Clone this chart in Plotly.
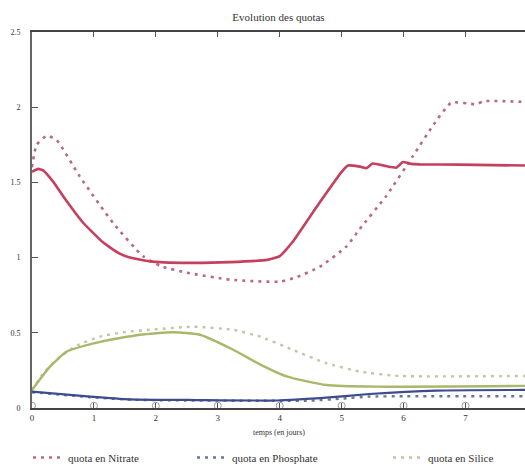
import plotly.graph_objects as go

# ---- data ----
nit_sol_x = [0, 0.1, 0.18, 0.35, 0.5, 0.83, 1.15, 1.4, 1.58, 1.9, 2.5, 3.2, 3.8, 4.0, 4.2, 4.6, 5.0, 5.1, 5.3, 5.4, 5.5, 5.7, 5.88, 5.99, 6.1, 6.26, 6.9, 7.96]
nit_sol_y = [1.57, 1.59, 1.58, 1.5, 1.41, 1.23, 1.1, 1.03, 1.0, 0.975, 0.965, 0.97, 0.985, 1.01, 1.1, 1.34, 1.57, 1.612, 1.605, 1.595, 1.625, 1.61, 1.598, 1.636, 1.625, 1.62, 1.618, 1.612]

nit_dot_x = [0, 0.075, 0.24, 0.4, 0.77, 1.31, 1.79, 2.1, 2.5, 3.2, 4.0, 4.27, 4.65, 5.08, 5.29, 5.72, 6.15, 6.47, 6.77, 7.17, 7.3, 7.96]
nit_dot_y = [1.6, 1.75, 1.81, 1.78, 1.54, 1.23, 1.01, 0.94, 0.9, 0.853, 0.84, 0.87, 0.94, 1.075, 1.19, 1.41, 1.675, 1.875, 2.03, 2.02, 2.04, 2.035]

sil_dot_x = [0, 0.2, 0.45, 0.75, 1.1, 1.5, 1.9, 2.6, 3.25, 3.68, 4.21, 4.75, 5.29, 5.94, 7.96]
sil_dot_y = [0.12, 0.24, 0.34, 0.42, 0.475, 0.505, 0.52, 0.54, 0.52, 0.475, 0.387, 0.298, 0.242, 0.213, 0.213]

sil_sol_x = [0, 0.29, 0.56, 1.1, 1.74, 2.28, 2.71, 3.25, 3.68, 4.11, 4.75, 5.56, 7.96]
sil_sol_y = [0.12, 0.275, 0.375, 0.44, 0.487, 0.504, 0.487, 0.387, 0.29, 0.21, 0.153, 0.142, 0.147]

pho_sol_x = [0, 0.94, 1.58, 2.66, 3.95, 4.65, 5.45, 6.53, 7.96]
pho_sol_y = [0.109, 0.076, 0.058, 0.053, 0.05, 0.065, 0.093, 0.116, 0.12]

pho_dot_x = [0, 1.0, 1.6, 2.5, 4.5, 5.0, 5.45, 6.0, 7.96]
pho_dot_y = [0.105, 0.07, 0.055, 0.05, 0.049, 0.062, 0.076, 0.078, 0.078]

mark_x = [0, 1, 2, 3, 4, 5, 6, 7]
mark_y = [0.015] * 8

x_ticks = [0, 1, 2, 3, 4, 5, 6, 7]
y_ticks = [0, 0.5, 1, 1.5, 2, 2.5]
y_tick_text = ["0", "0.5", "1", "1.5", "2", "2.5"]

SERIF = "Liberation Serif, DejaVu Serif, serif"
DOT = "3px,5px"

fig = go.Figure()
fig.add_trace(go.Scatter(x=nit_dot_x, y=nit_dot_y, mode="lines", name="quota en Nitrate", legend="legend",
                         line=dict(color="#b86a80", width=2.6, dash=DOT, shape="spline", smoothing=0.5)))
fig.add_trace(go.Scatter(x=pho_dot_x, y=pho_dot_y, mode="lines", name="quota en Phosphate", legend="legend2",
                         line=dict(color="#6a7898", width=2.4, dash=DOT, shape="spline", smoothing=0.5)))
fig.add_trace(go.Scatter(x=sil_dot_x, y=sil_dot_y, mode="lines", name="quota en Silice", legend="legend3",
                         line=dict(color="#c4c4a8", width=2.4, dash=DOT, shape="spline", smoothing=0.5)))
fig.add_trace(go.Scatter(x=nit_sol_x, y=nit_sol_y, mode="lines", showlegend=False,
                         line=dict(color="#c4405e", width=2.6, shape="spline", smoothing=0.4)))
fig.add_trace(go.Scatter(x=sil_sol_x, y=sil_sol_y, mode="lines", showlegend=False,
                         line=dict(color="#a9b86a", width=2.4, shape="spline", smoothing=0.5)))
fig.add_trace(go.Scatter(x=pho_sol_x, y=pho_sol_y, mode="lines", showlegend=False,
                         line=dict(color="#3c4c8c", width=2.2, shape="spline", smoothing=0.5)))
fig.add_trace(go.Scatter(x=mark_x, y=mark_y, mode="markers", showlegend=False,
                         marker=dict(symbol="circle-open", size=7, color="#9a9aa8", line=dict(width=1))))

PW = 493.0
def leg(px):
    return dict(orientation="h", x=(px - 32) / PW, xanchor="left", y=-50 / 376, yanchor="middle",
                font=dict(family=SERIF, size=11, color="#333"), bgcolor="rgba(0,0,0,0)",
                itemwidth=30)

fig.update_layout(
    width=525, height=472,
    margin=dict(l=32, r=0, t=32, b=64),
    paper_bgcolor="white", plot_bgcolor="white",
    font=dict(family=SERIF, size=9, color="#333"),
    title=dict(text="Evolution des quotas", x=0.5, xref="paper", y=1 - 17 / 472, yanchor="middle",
               font=dict(family=SERIF, size=11, color="#333")),
    legend=leg(28), legend2=leg(192), legend3=leg(388),
    annotations=[dict(text="temps (en jours)", xref="paper", yref="paper", x=0.5, y=-0.064,
                      xanchor="center", yanchor="middle", showarrow=False,
                      font=dict(family=SERIF, size=8, color="#333"))],
)
fig.update_xaxes(range=[0, 7.96], tickvals=x_ticks, ticks="inside", ticklen=5, tickcolor="#555",
                 showline=True, linecolor="#444", linewidth=2, mirror="ticks", showgrid=False,
                 zeroline=False, tickfont=dict(family=SERIF, size=9, color="#333"))
fig.update_yaxes(range=[0, 2.5], tickvals=y_ticks, ticktext=y_tick_text, ticks="inside", ticklen=6,
                 tickcolor="#555", showline=True, linecolor="#666", linewidth=2, mirror=False,
                 showgrid=False, zeroline=False, ticklabelstandoff=8,
                 tickfont=dict(family=SERIF, size=8, color="#333"))

fig.write_html("out.html")
